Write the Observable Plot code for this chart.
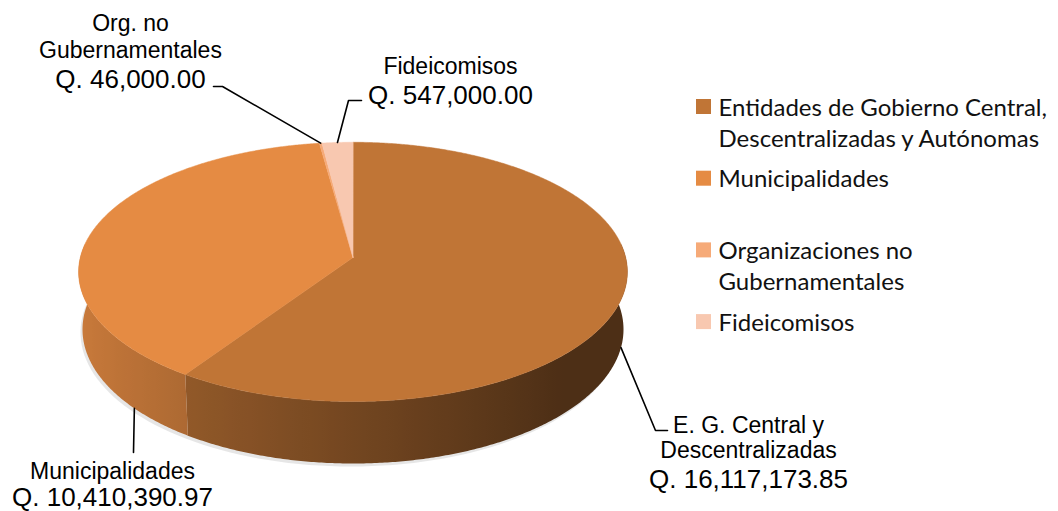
<!DOCTYPE html>
<html><head><meta charset="utf-8">
<script src="https://cdn.jsdelivr.net/npm/d3@7"></script>
<script src="https://cdn.jsdelivr.net/npm/@observablehq/plot@0.6"></script>
<style>html,body{margin:0;padding:0;background:#fff;overflow:hidden}</style>
</head><body><div id="chart"></div>
<script>
// ---- data ----
const categories = ["Entidades de Gobierno Central, Descentralizadas y Autónomas", "Municipalidades", "Organizaciones no Gubernamentales", "Fideicomisos"];
const values = [16117173.85, 10410390.97, 46000.00, 547000.00];
const legendLines = [["Entidades de Gobierno Central,", "Descentralizadas y Autónomas"], ["Municipalidades"], ["Organizaciones no", "Gubernamentales"], ["Fideicomisos"]];
const labelLines = [["E. G. Central y", "Descentralizadas"], ["Municipalidades"], ["Org. no", "Gubernamentales"], ["Fideicomisos"]];
const palette = ["#C07536", "#E58B43", "#F6AA78", "#F8C8B0"];

// ---- layout ----
const W = 1058, H = 511;
const cx = 352.5, cy = 257, F = 2168, D = 7.95, sa = 0.4695, ca = 0.883, depth = 0.241;
const deg = Math.PI / 180;
function proj(theta, h) {
  const X = Math.sin(theta), Z = -Math.cos(theta);
  const dep = D - (Z * ca + h * sa);
  return [cx + X * F / dep, cy + (Z * sa - h * ca) * F / dep];
}
const arcs = d3.pie().sort(null).value(d => d)(values);
const mid = a => (a.startAngle + a.endAngle) / 2;

// top faces
const topRows = [];
arcs.forEach((a, i) => {
  topRows.push({id: i, x: cx, y: cy, color: palette[i]});
  const n = Math.max(2, Math.ceil((a.endAngle - a.startAngle) / (0.4 * deg)));
  for (let k = 0; k <= n; k++) {
    const t = a.startAngle + (a.endAngle - a.startAngle) * k / n;
    const p = proj(t, 0);
    topRows.push({id: i, x: p[0], y: p[1], color: palette[i]});
  }
});

// side walls (front half) with horizontal shading gradients
const shade = X => Math.max(0.40, Math.min(0.95, 0.60 - 0.28 * X));
const wallRows = [];
const gradients = [];
arcs.forEach((a, i) => {
  const t0 = Math.max(a.startAngle, 84 * deg), t1 = Math.min(a.endAngle, 276 * deg);
  if (t1 <= t0) return;
  const n = Math.max(2, Math.ceil((t1 - t0) / (0.5 * deg)));
  const ts = d3.range(n + 1).map(k => t0 + (t1 - t0) * k / n);
  const id = "wall-" + i;
  ts.forEach(t => { const p = proj(t, 0); wallRows.push({id: i, x: p[0], y: p[1], fill: `url(#${id})`}); });
  ts.slice().reverse().forEach(t => { const p = proj(t, -depth); wallRows.push({id: i, x: p[0], y: p[1], fill: `url(#${id})`}); });
  const base = d3.rgb(palette[i]);
  const samples = ts.map(t => {
    const f = shade(Math.sin(t));
    return {x: proj(t, -depth / 2)[0], color: d3.rgb(base.r * f, base.g * f, base.b * f).formatHex()};
  }).sort((p, q) => p.x - q.x);
  gradients.push({id, samples});
});
function gradientDefs() {
  const ns = "http://www.w3.org/2000/svg";
  const defs = document.createElementNS(ns, "defs");
  gradients.forEach(g => {
    const lg = document.createElementNS(ns, "linearGradient");
    const x0 = g.samples[0].x, x1 = g.samples[g.samples.length - 1].x;
    lg.setAttribute("id", g.id);
    lg.setAttribute("gradientUnits", "userSpaceOnUse");
    lg.setAttribute("x1", x0); lg.setAttribute("x2", x1);
    lg.setAttribute("y1", 0); lg.setAttribute("y2", 0);
    g.samples.filter((s, k) => k % 4 === 0 || k === g.samples.length - 1).forEach(s => {
      const st = document.createElementNS(ns, "stop");
      st.setAttribute("offset", x1 > x0 ? (s.x - x0) / (x1 - x0) : 0);
      st.setAttribute("stop-color", s.color);
      lg.appendChild(st);
    });
    defs.appendChild(lg);
  });
  return defs;
}

// soft shadow of base
const shadowRows = [];
for (let k = 0; k <= 360; k += 2) {
  const p = proj(k * deg, -depth);
  shadowRows.push({x: p[0], y: p[1]});
}

// data labels with leaders
const labelLayout = [
  {theta: 104 * deg, h: -depth, path: [[655, 430], [667, 430]], tx: 748, base: [432, 457], vbase: 487},
  {theta: 229 * deg, h: -depth, path: [[133, 452]], tx: 112, base: [478], vbase: 505},
  {theta: mid(arcs[2]), h: 0, path: [[222, 86], [213, 86]], tx: 130, base: [30, 57], vbase: 87},
  {theta: mid(arcs[3]), h: 0, path: [[348, 100], [361, 100]], tx: 450, base: [73], vbase: 103}
];
const fmt = v => "Q. " + d3.format(",.2f")(v);
const leaderRows = [], nameRows = [], valueRows = [];
labelLayout.forEach((L, i) => {
  const p = proj(L.theta, L.h);
  leaderRows.push({id: i, x: p[0], y: p[1]});
  L.path.forEach(q => leaderRows.push({id: i, x: q[0], y: q[1]}));
  labelLines[i].forEach((s, j) => nameRows.push({x: L.tx, y: L.base[j], text: s}));
  valueRows.push({x: L.tx, y: L.vbase, text: fmt(values[i])});
});

// legend
const legX = 696, legTop = 99, legStep = 71.7, sq = 15;
const legRects = categories.map((c, i) => ({x1: legX, x2: legX + sq, y1: legTop + i * legStep, y2: legTop + i * legStep + sq, color: palette[i]}));
const legText = [];
legendLines.forEach((ls, i) => ls.forEach((s, j) => legText.push({x: legX + 22, y: legTop + i * legStep + 16 + j * 31, text: s})));

const chart = Plot.plot({
  width: W, height: H, margin: 0,
  x: {domain: [0, W], range: [0, W], axis: null},
  y: {domain: [0, H], range: [0, H], axis: null},
  color: {type: "identity"},
  style: {background: "white"},
  marks: [
    gradientDefs,
    Plot.line(shadowRows, {x: "x", y: "y", fill: "#9a9a9a", fillOpacity: 0.25, stroke: "none", curve: "linear-closed", dx: -2, dy: 3}),
    Plot.line(wallRows, {x: "x", y: "y", z: "id", fill: "fill", stroke: "none", curve: "linear-closed"}),
    Plot.line(topRows, {x: "x", y: "y", z: "id", fill: "color", stroke: "color", strokeWidth: 0.5, curve: "linear-closed"}),
    Plot.line(leaderRows, {x: "x", y: "y", z: "id", stroke: "black", strokeWidth: 1.6}),
    Plot.text(nameRows, {x: "x", y: "y", text: "text", fontSize: 23, fontFamily: "Liberation Sans, Arial, sans-serif", textAnchor: "middle", lineAnchor: "bottom", fill: "black"}),
    Plot.text(valueRows, {x: "x", y: "y", text: "text", fontSize: 26, fontFamily: "Liberation Sans, Arial, sans-serif", textAnchor: "middle", lineAnchor: "bottom", fill: "black"}),
    Plot.rect(legRects, {x1: "x1", x2: "x2", y1: "y1", y2: "y2", fill: "color"}),
    Plot.text(legText, {x: "x", y: "y", text: "text", fontSize: 24, fontFamily: "Lato, sans-serif", textAnchor: "start", lineAnchor: "bottom", fill: "#111"})
  ]
});
document.getElementById("chart").appendChild(chart);
</script>
</body></html>
